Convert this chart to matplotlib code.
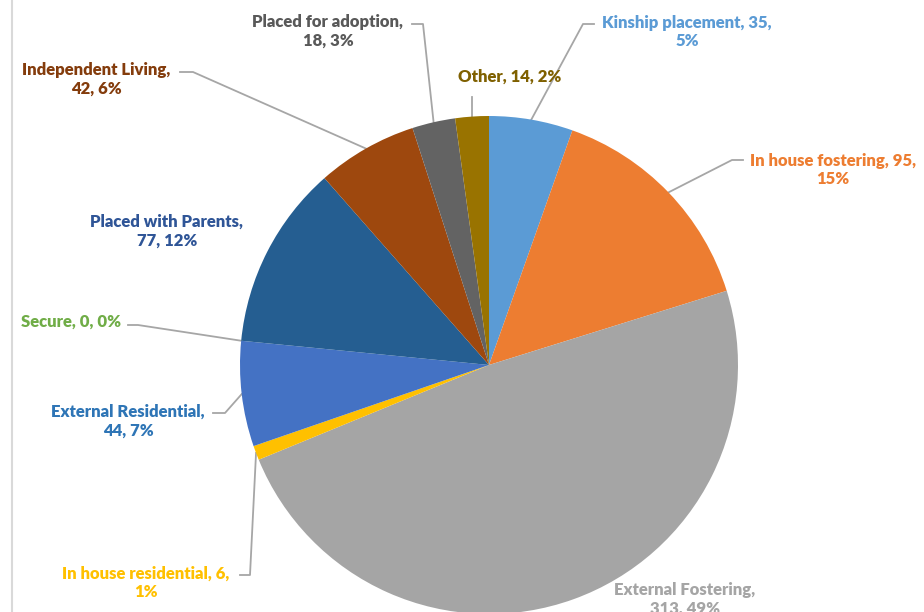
import numpy as np
import matplotlib
matplotlib.use("Agg")
import matplotlib.pyplot as plt

plt.rcParams['font.family'] = ['Lato', 'DejaVu Sans']

categories = ["Kinship placement", "In house fostering", "External Fostering",
              "In house residential", "External Residential", "Secure",
              "Placed with Parents", "Independent Living", "Placed for adoption", "Other"]
values = [35, 95, 313, 6, 44, 0, 77, 42, 18, 14]

slice_colors = ["#5B9BD5", "#ED7D31", "#A5A5A5", "#FFC000", "#4472C4",
                "#70AD47", "#255E91", "#9E480E", "#636363", "#997300"]
text_colors = ["#5B9BD5", "#ED7D31", "#A5A5A5", "#FFC000", "#2E75B6",
               "#70AD47", "#2F5597", "#843C0C", "#595959", "#7F6000"]

# label layout in pixel coords: (text x, text y, lines, leader elbow/start points)
H = 612
layout = {
    "Kinship placement":    (687, 32, ["Kinship placement, 35,", "5%"], [(594, 24), (583, 24)]),
    "In house fostering":   (833, 170, ["In house fostering, 95,", "15%"], [(743, 160), (732, 160)]),
    "External Fostering":   (685, 599, ["External Fostering,", "313, 49%"], None),
    "In house residential": (146, 583, ["In house residential, 6,", "1%"], [(240, 575), (250, 575)]),
    "External Residential": (128, 421, ["External Residential,", "44, 7%"], [(213, 413), (225, 413)]),
    "Secure":               (71, 322, ["Secure, 0, 0%"], [(128, 325), (138, 325)]),
    "Placed with Parents":  (167, 231, ["Placed with Parents,", "77, 12%"], None),
    "Independent Living":   (96, 79, ["Independent Living,", "42, 6%"], [(180, 72), (193, 72)]),
    "Placed for adoption":  (328, 31, ["Placed for adoption,", "18, 3%"], [(412, 24), (423, 24)]),
    "Other":                (510, 77, ["Other, 14, 2%"], [(472, 97)]),
}

fig = plt.figure(figsize=(9.24, 6.12), dpi=100)
ax = fig.add_axes([0, 0, 1, 1])
cx, cy, r = 489, H - 365, 249

wedges, _ = ax.pie(values, colors=slice_colors, startangle=90, counterclock=False,
                   center=(cx, cy), radius=r, frame=True,
                   wedgeprops=dict(linewidth=0))

for w, name, tc in zip(wedges, categories, text_colors):
    tx, ty, lines, leader = layout[name]
    ax.text(tx, H - ty, "\n".join(lines), color=tc, fontsize=12, fontweight='heavy',
            ha='center', va='center', linespacing=1.2)
    if leader:
        mid = np.deg2rad((w.theta1 + w.theta2) / 2)
        end = (cx + r * np.cos(mid), cy + r * np.sin(mid))
        xs = [p[0] for p in leader] + [end[0]]
        ys = [H - p[1] for p in leader] + [end[1]]
        ax.plot(xs, ys, color="#A6A6A6", lw=1.3, zorder=0.5)

ax.axvline(12, color="#D9D9D9", lw=1.5)
ax.set_xlim(0, 924)
ax.set_ylim(0, H)
ax.set_aspect('equal')
ax.axis('off')
fig.savefig("out.png", dpi=100)
